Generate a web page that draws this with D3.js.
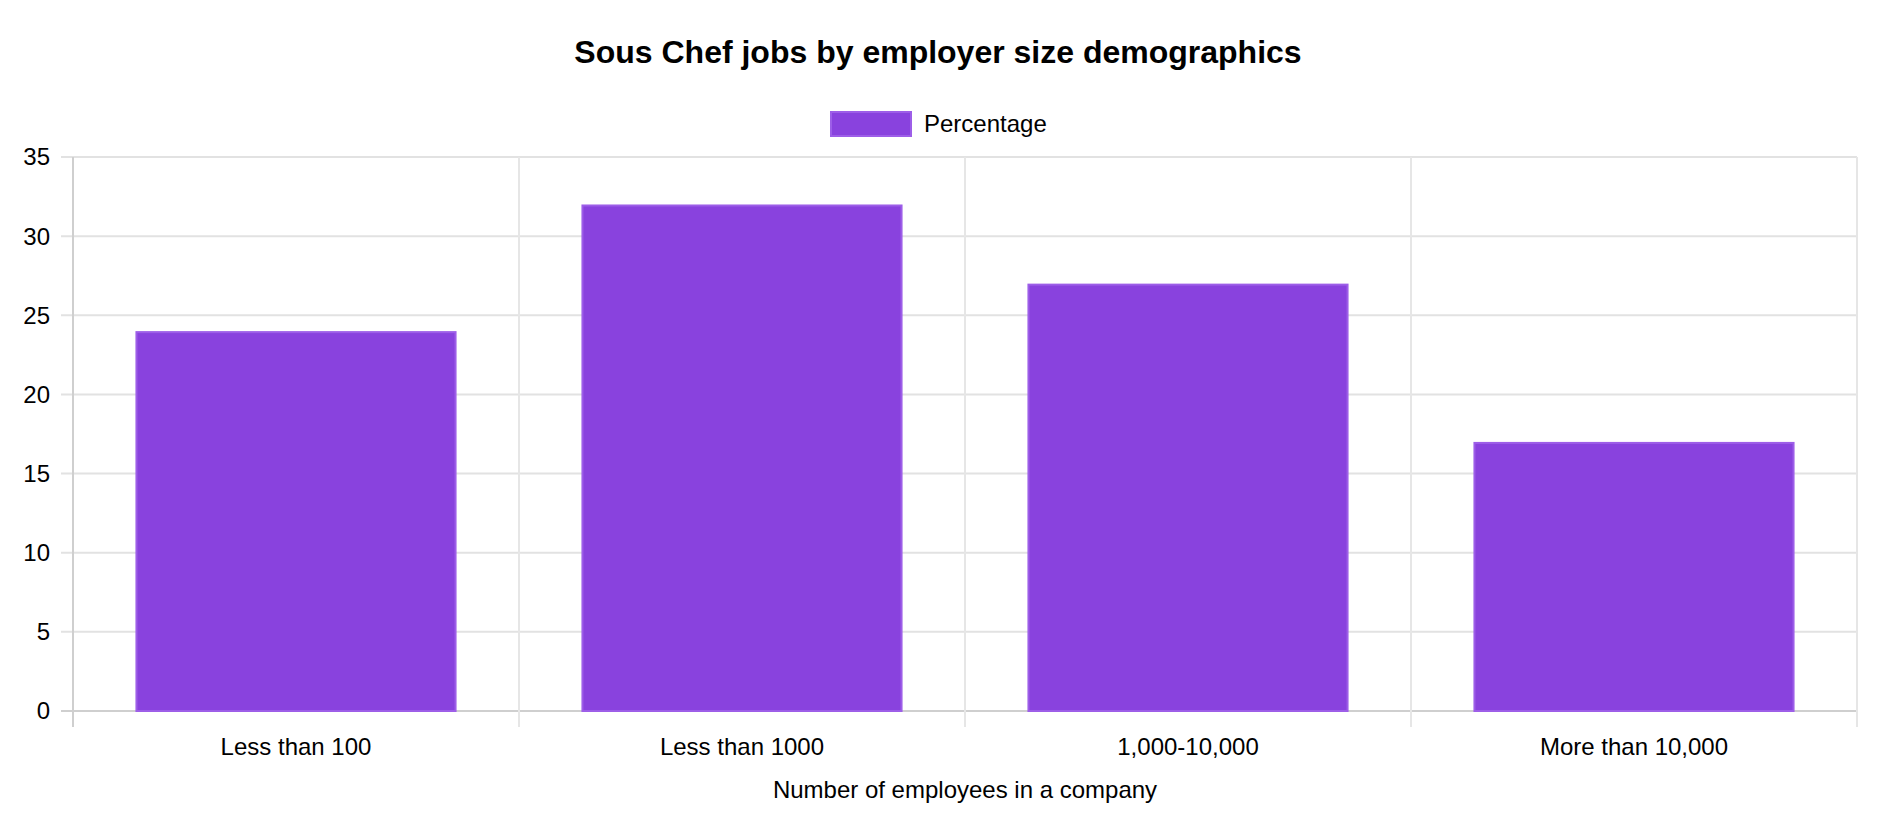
<!DOCTYPE html>
<html><head><meta charset="utf-8">
<script src="https://cdn.jsdelivr.net/npm/d3@7"></script>
<style>body{margin:0;background:#fff;font-family:"Liberation Sans",Arial,Helvetica,sans-serif;}</style>
</head><body><svg id="c" width="1890" height="834"></svg>
<script>
const categories = ["Less than 100", "Less than 1000", "1,000-10,000", "More than 10,000"];
const percentage = [24, 32, 27, 17];
const yTicks = [0, 5, 10, 15, 20, 25, 30, 35];
const title = "Sous Chef jobs by employer size demographics";
const seriesName = "Percentage";
const xTitle = "Number of employees in a company";

const svg = d3.select("#c");
const L = 73, R = 1857, T = 157, B = 711;
const x = d3.scaleBand().domain(categories).range([L, R]).paddingInner(0).paddingOuter(0);
const y = d3.scaleLinear().domain([0, 35]).range([B, T]);
const font = "'Liberation Sans', Arial, Helvetica, sans-serif";

// horizontal grid
svg.append("g").selectAll("line").data(yTicks).join("line")
  .attr("x1", L - 12).attr("x2", R).attr("y1", d => y(d)).attr("y2", d => y(d))
  .attr("stroke", d => d === 0 ? "#cfcfcf" : "#e2e2e2").attr("stroke-width", 2);
// vertical grid at category boundaries
const bounds = categories.map(c => x(c)).concat([R]);
svg.append("g").selectAll("line").data(bounds).join("line")
  .attr("x1", d => d).attr("x2", d => d).attr("y1", T).attr("y2", B + 16)
  .attr("stroke", (d, i) => i === 0 ? "#cfcfcf" : "#e6e6e6").attr("stroke-width", 2);

// bars (border drawn inside the bar, as in the reference)
const bw = x.bandwidth() * 0.9 * 0.8;
svg.append("g").selectAll("rect").data(percentage).join("rect")
  .attr("x", (d, i) => x(categories[i]) + (x.bandwidth() - bw) / 2 + 1)
  .attr("y", d => y(d) + 1)
  .attr("width", bw - 2)
  .attr("height", d => B - y(d) - 1)
  .attr("fill", "#8942de")
  .attr("stroke", "#9d5ee8").attr("stroke-width", 2);

// y tick labels
svg.append("g").selectAll("text").data(yTicks).join("text")
  .attr("x", 50).attr("y", d => y(d)).attr("dy", "0.35em")
  .attr("text-anchor", "end").attr("font-family", font).attr("font-size", 24).attr("fill", "#000")
  .text(d => d);

// x tick labels
svg.append("g").selectAll("text").data(categories).join("text")
  .attr("x", d => x(d) + x.bandwidth() / 2).attr("y", 755)
  .attr("text-anchor", "middle").attr("font-family", font).attr("font-size", 24).attr("fill", "#000")
  .text(d => d);

// x title
svg.append("text").attr("x", (L + R) / 2).attr("y", 798).attr("text-anchor", "middle")
  .attr("font-family", font).attr("font-size", 24).attr("fill", "#000").text(xTitle);

// title
svg.append("text").attr("x", 938).attr("y", 63).attr("text-anchor", "middle")
  .attr("font-family", font).attr("font-size", 32).attr("font-weight", "bold").attr("fill", "#000").text(title);

// legend
const lg = svg.append("g");
lg.append("rect").attr("x", 831).attr("y", 112).attr("width", 80).attr("height", 24)
  .attr("fill", "#8942de").attr("stroke", "#9d5ee8").attr("stroke-width", 2);
lg.append("text").attr("x", 924).attr("y", 124).attr("dy", "0.35em")
  .attr("font-family", font).attr("font-size", 24).attr("fill", "#000").text(seriesName);
</script></body></html>
